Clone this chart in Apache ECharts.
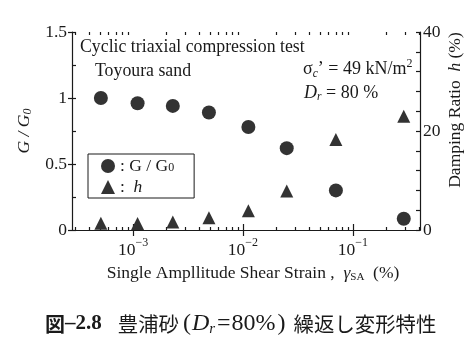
<!DOCTYPE html>
<html>
<head>
<meta charset="utf-8">
<script src="https://cdn.jsdelivr.net/npm/echarts@6/dist/echarts.min.js"></script>
<style>
html,body{margin:0;padding:0;background:#fff;}
#chart{width:475px;height:364px;}
</style>
</head>
<body>
<div id="chart"></div>
<script>
// ---- data ----
const strain = [5.1e-4, 1.1e-3, 2.3e-3, 4.9e-3, 1.12e-2, 2.5e-2, 7.0e-2, 0.29]; // single amplitude shear strain (%)
const gRatio = [1.0, 0.96, 0.94, 0.89, 0.78, 0.62, 0.30, 0.085];            // G / G0
const damping = [1.35, 1.3, 1.6, 2.5, 3.9, 7.9, 18.3, 23.0];                 // h (%)
const xMajorExponents = [-3, -2, -1];
const xMinorMultipliers = [2, 3, 4, 5, 6, 7, 8, 9];
const xMinorDecades = [-4, -3, -2, -1];
const yLeftLabels = [0, 0.5, 1, 1.5];
const yRightLabels = [0, 20, 40];

const serif = 'Liberation Serif';
const ink = '#1a1a1a';
const markColor = '#333333';
const fs = 17.5;

const minorLogs = [];
xMinorDecades.forEach(d => xMinorMultipliers.forEach(m => minorLogs.push(Math.log10(m * Math.pow(10, d)))));

const xMin = -3.555, xMax = -0.39;
const lineStyle = {color: ink, width: 1.2};
const xBase = {type: 'value', min: xMin, max: xMax, splitLine: {show: false}};

const chart = echarts.init(document.getElementById('chart'), null, {renderer: 'canvas'});
chart.setOption({
  animation: false,
  backgroundColor: '#fff',
  grid: {left: 72, right: 55, top: 32, bottom: 134},
  xAxis: [
    Object.assign({}, xBase, {
      position: 'bottom',
      axisLine: {show: true, lineStyle},
      axisTick: {show: true, inside: true, length: 6, customValues: xMajorExponents, lineStyle},
      axisLabel: {
        customValues: xMajorExponents, margin: 7,
        formatter: v => '{b|10}{s|\u2212' + Math.abs(v) + '}',
        rich: {
          b: {fontFamily: serif, fontSize: fs, color: ink, lineHeight: 22, verticalAlign: 'bottom'},
          s: {fontFamily: serif, fontSize: 12, color: ink, lineHeight: 10, verticalAlign: 'top'}
        }
      },
      name: 'Single Ampllitude Shear Strain ,  {g|\u03b3}{sub|SA}  (%)',
      nameLocation: 'middle', nameGap: 33,
      nameTextStyle: {
        fontFamily: serif, fontSize: fs, color: ink, padding: [0, 0, 0, 14],
        rich: {
          g: {fontFamily: serif, fontSize: fs, fontStyle: 'italic', color: ink, lineHeight: 20},
          sub: {fontFamily: serif, fontSize: 11, color: ink, lineHeight: 8, verticalAlign: 'bottom'}
        }
      }
    }),
    Object.assign({}, xBase, {
      position: 'bottom',
      axisLine: {show: false},
      axisTick: {show: true, inside: true, length: 3, customValues: minorLogs, lineStyle},
      axisLabel: {show: false}
    }),
    Object.assign({}, xBase, {
      position: 'top',
      axisLine: {show: true, lineStyle},
      axisTick: {show: true, inside: true, length: 6, customValues: xMajorExponents, lineStyle},
      axisLabel: {show: false}
    }),
    Object.assign({}, xBase, {
      position: 'top',
      axisLine: {show: false},
      axisTick: {show: true, inside: true, length: 3, customValues: minorLogs, lineStyle},
      axisLabel: {show: false}
    })
  ],
  yAxis: [
    {
      type: 'value', position: 'left', min: 0, max: 1.5, interval: 0.5,
      splitLine: {show: false},
      axisLine: {show: true, lineStyle},
      axisTick: {show: true, inside: false, length: 4, lineStyle},
      axisLabel: {customValues: yLeftLabels, margin: 5, fontFamily: serif, fontSize: fs, color: ink},
      name: '{i|G} / {i|G}{s|0}', nameLocation: 'middle', nameGap: 34, nameRotate: 90,
      nameTextStyle: {
        fontFamily: serif, fontSize: fs, fontStyle: 'italic', color: ink,
        rich: {
          i: {fontFamily: serif, fontSize: fs, fontStyle: 'italic', color: ink, lineHeight: 20},
          s: {fontFamily: serif, fontSize: 12, fontStyle: 'italic', color: ink, lineHeight: 10, verticalAlign: 'bottom'}
        }
      }
    },
    {
      type: 'value', position: 'left', min: 0, max: 1.5, interval: 0.25,
      splitLine: {show: false},
      axisLine: {show: false},
      axisTick: {show: true, inside: true, length: 4, lineStyle},
      axisLabel: {show: false}
    },
    {
      type: 'value', position: 'right', min: 0, max: 40, interval: 4,
      splitLine: {show: false},
      axisLine: {show: true, lineStyle},
      axisTick: {show: true, inside: true, length: 4, lineStyle},
      axisLabel: {customValues: yRightLabels, margin: 3, fontFamily: serif, fontSize: fs, color: ink}
    }
  ],
  legend: {
    show: true, orient: 'vertical', left: 88, top: 154,
    padding: [3, 20, 2, 13], itemGap: 3, itemWidth: 14, itemHeight: 14,
    borderColor: ink, borderWidth: 1, borderRadius: 0, selectedMode: false,
    data: [{name: 'G/G0', icon: 'circle'}, {name: 'h', icon: 'triangle'}],
    formatter: n => n === 'G/G0' ? ': G / G{s|0}' : ':  {i|h}',
    textStyle: {
      fontFamily: serif, fontSize: fs, color: ink, lineHeight: 16,
      rich: {
        s: {fontFamily: serif, fontSize: 12, color: ink, lineHeight: 8, verticalAlign: 'bottom'},
        i: {fontFamily: serif, fontSize: fs, fontStyle: 'italic', color: ink, lineHeight: 16}
      }
    }
  },
  series: [
    {
      type: 'scatter', name: 'G/G0', xAxisIndex: 0, yAxisIndex: 0,
      symbol: 'circle', symbolSize: 14,
      itemStyle: {color: markColor, opacity: 1},
      data: strain.map((s, i) => [Math.log10(s), gRatio[i]])
    },
    {
      type: 'scatter', name: 'h', xAxisIndex: 0, yAxisIndex: 2,
      symbol: 'triangle', symbolSize: 13,
      itemStyle: {color: markColor, opacity: 1},
      data: strain.map((s, i) => [Math.log10(s), damping[i]])
    }
  ],
  graphic: [
    {type: 'text', x: 80, y: 47, style: {text: 'Cyclic triaxial compression test', fontFamily: serif, fontSize: 17.8, fill: ink, align: 'left', verticalAlign: 'middle'}},
    {type: 'text', x: 95, y: 71, style: {text: 'Toyoura sand', fontFamily: serif, fontSize: 17.8, fill: ink, align: 'left', verticalAlign: 'middle'}},
    {type: 'text', x: 303, y: 69, style: {
      text: '{n|\u03c3}{sc|c}{n|\u2019 = 49 kN/m}{sp|2}', align: 'left', verticalAlign: 'middle',
      rich: {
        n: {fontFamily: serif, fontSize: 18, fill: ink, lineHeight: 22, verticalAlign: 'middle'},
        sc: {fontFamily: serif, fontSize: 11.5, fontStyle: 'italic', fill: ink, lineHeight: 12, verticalAlign: 'bottom'},
        sp: {fontFamily: serif, fontSize: 12, fill: ink, lineHeight: 10, verticalAlign: 'top'}
      }
    }},
    {type: 'text', x: 304, y: 93, style: {
      text: '{i|D}{s|r}{n| = 80 %}', align: 'left', verticalAlign: 'middle',
      rich: {
        i: {fontFamily: serif, fontSize: 18, fontStyle: 'italic', fill: ink, lineHeight: 20},
        s: {fontFamily: serif, fontSize: 11.5, fontStyle: 'italic', fill: ink, lineHeight: 10, verticalAlign: 'bottom'},
        n: {fontFamily: serif, fontSize: 18, fill: ink, lineHeight: 20}
      }
    }},
    {type: 'text', x: 455, y: 110, rotation: Math.PI / 2, style: {
      text: 'Damping Ratio  {i|h} (%)', align: 'center', verticalAlign: 'middle',
      fontFamily: serif, fontSize: fs, fill: ink,
      rich: {i: {fontFamily: serif, fontSize: fs, fontStyle: 'italic', fill: ink}}
    }},
    {type: 'text', x: 45, y: 324, style: {
      text: '{fig|図}{fb|\u20132.8}{g16| }{jp|豊浦砂}{g4| }{l|(}{g1| }{li|D}{ls|r}{g2| }{l|=}{g1| }{l|80%}{g2| }{l|)}{g8| }{jp|繰返し変形特性}',
      align: 'left', verticalAlign: 'middle',
      rich: {
        fig: {fontFamily: 'Noto Sans CJK JP', fontSize: 20, fontWeight: 'bold', fill: ink, lineHeight: 26},
        fb: {fontFamily: serif, fontSize: 21, fontWeight: 'bold', fill: ink, lineHeight: 26},
        g1: {fontSize: 10, width: 1, lineHeight: 26},
        g2: {fontSize: 10, width: 2, lineHeight: 26},
        g4: {fontSize: 10, width: 4, lineHeight: 26},
        g8: {fontSize: 10, width: 8, lineHeight: 26},
        g16: {fontSize: 10, width: 16, lineHeight: 26},
        jp: {fontFamily: 'Noto Sans CJK JP', fontSize: 20.4, fill: ink, lineHeight: 26},
        l: {fontFamily: serif, fontSize: 24, fill: ink, lineHeight: 26},
        li: {fontFamily: serif, fontSize: 24, fontStyle: 'italic', fill: ink, lineHeight: 26},
        ls: {fontFamily: serif, fontSize: 15, fontStyle: 'italic', fill: ink, lineHeight: 14, verticalAlign: 'bottom'}
      }
    }}
  ]
});
</script>
</body>
</html>
